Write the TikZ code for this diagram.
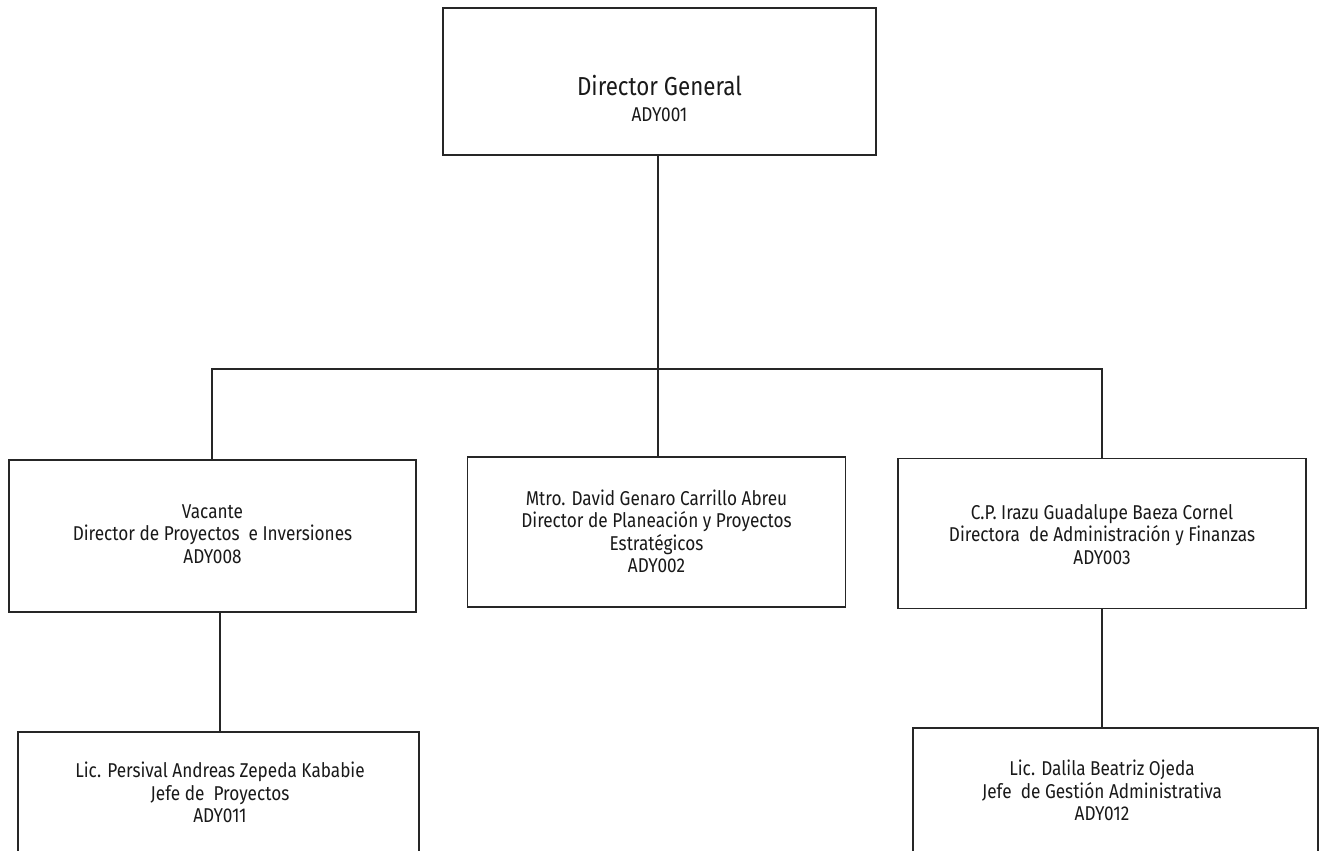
\documentclass[tikz,border=0pt]{standalone}
\usepackage{fontspec}
\setmainfont[FakeStretch=0.86]{Fira Sans}
\begin{document}
\begin{tikzpicture}[x=1pt,y=-1pt,
  box/.style={draw=black!85, line width=1.1pt, rectangle, inner sep=0pt},
  conn/.style={draw=black!85, line width=1.1pt},
  txt/.style={align=center, inner sep=0pt, text=black!90, font=\fontsize{20}{22.5}\selectfont},
]
\useasboundingbox (0,0) rectangle (1325,851);
% boxes
\node[box, minimum width=433, minimum height=147] (top) at (659.5,81.5) {};
\node[box, minimum width=407, minimum height=152] (left) at (212.5,536) {};
\node[box, minimum width=378, minimum height=150] (mid) at (656.5,532) {};
\node[box, minimum width=408, minimum height=150] (right) at (1102,533.5) {};
\node[box, minimum width=401, minimum height=140] (bleft) at (218.5,802) {};
\node[box, minimum width=405, minimum height=144] (bright) at (1115.5,800) {};
% texts
\node[txt, font=\fontsize{26}{29}\selectfont] (topT1) at (659.5,86) {Director General};
\node[txt, font=\fontsize{20}{22}\selectfont] (topT2) at (659.5,115) {ADY001};
\node[txt] (leftT) at (212.5,534) {Vacante\\Director de Proyectos\ \ e Inversiones\\ADY008};
\node[txt] (midT) at (656.5,531.5) {Mtro. David Genaro Carrillo Abreu\\Director de Planeación y Proyectos\\Estratégicos\\ADY002};
\node[txt] (rightT) at (1102,534.5) {C.P. Irazu Guadalupe Baeza Cornel\\Directora\ \ de Administración y Finanzas\\ADY003};
\node[txt] (bleftT) at (220,792.5) {Lic. Persival Andreas Zepeda Kababie\\Jefe de\ \ Proyectos\\ADY011};
\node[txt] (brightT) at (1102,790.5) {Lic. Dalila Beatriz Ojeda\\Jefe\ \ de Gestión Administrativa\\ADY012};
% connectors
\coordinate (busC) at (658,369);
\coordinate (busL) at (212,369);
\coordinate (busR) at (1102,369);
\draw[conn] (top.south -| busC) -- (mid.north -| busC);
\draw[conn] (left.north -| busL) -- (busL) -- (busR) -- (right.north -| busR);
\draw[conn] (left.south -| 220,0) -- (bleft.north -| 220,0);
\draw[conn] (right.south) -- (right.south |- bright.north);
\end{tikzpicture}
\end{document}
